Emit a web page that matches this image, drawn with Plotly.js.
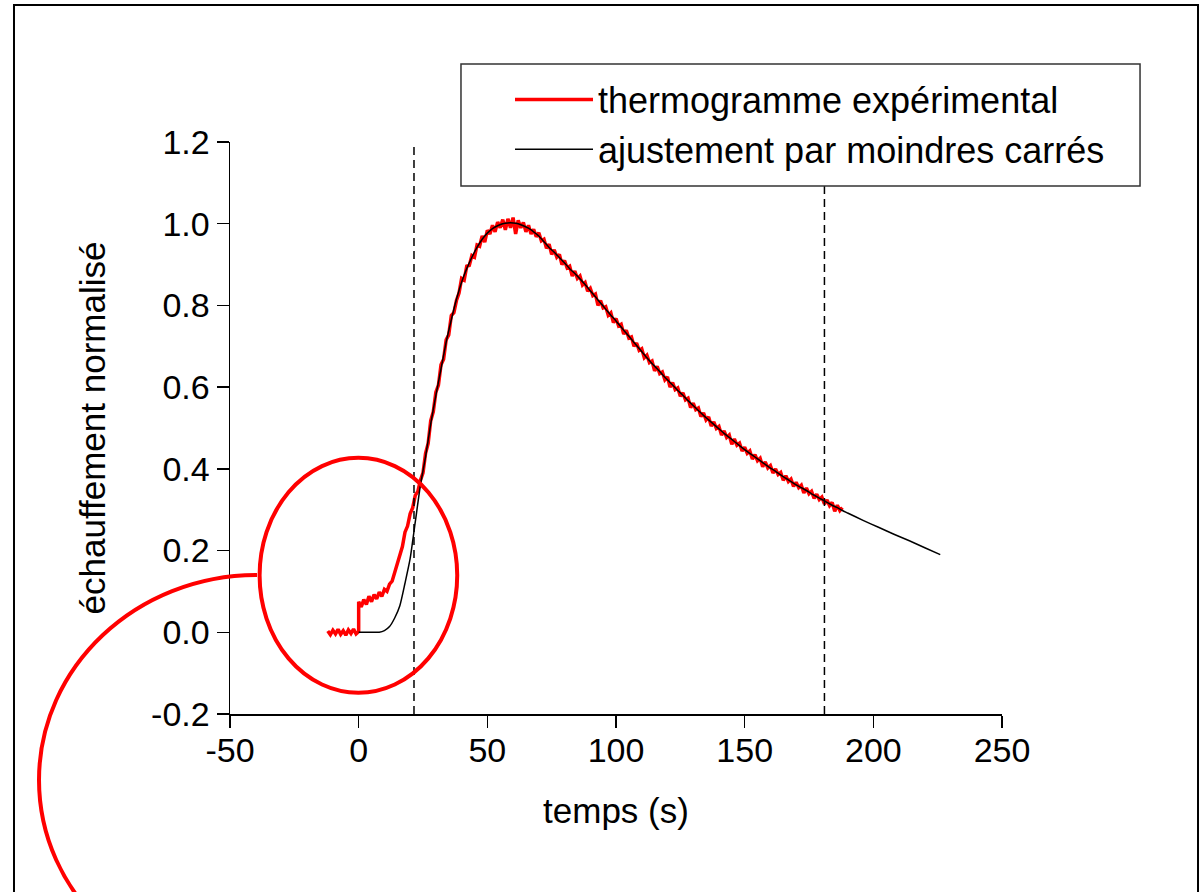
<!DOCTYPE html>
<html>
<head>
<meta charset="utf-8">
<script src="https://cdn.plot.ly/plotly-3.0.1.min.js"></script>
<style>html,body{margin:0;padding:0;background:#fff;}#chart{width:1202px;height:892px;}</style>
</head>
<body>
<div id="chart"></div>
<script>
// ---- data ----
const seriesNames = ['thermogramme expérimental', 'ajustement par moindres carrés'];

const expTime = [-12,-11,-10,-9,-8,-7,-6,-5,-4,-3,-2,-1,0,0,1,2,3,4,5,6,7,8,9,10,11,12,13,14,15,16,17,18,19,20,21,22,23,
  24,25,26,27,28,29,30,31,32,33,34,35,36,37,38,39,40,41,42,43,44,45,46,47,48,49,50,51,52,53,54,55,56,57,58,59,60,61,62,63,
  64,65,66,67,68,69,70,71,72,73,74,75,76,77,78,79,80,81,82,83,84,85,86,87,88,89,90,91,92,93,94,95,96,97,98,99,100,101,102,103,
  104,105,106,107,108,109,110,111,112,113,114,115,116,117,118,119,120,121,122,123,124,125,126,127,128,129,130,131,132,133,
  134,135,136,137,138,139,140,141,142,143,144,145,146,147,148,149,150,151,152,153,154,155,156,157,158,159,160,161,162,163,
  164,165,166,167,168,169,170,171,172,173,174,175,176,177,178,179,180,181,182,183,184,185,186,187,188];
const expValue = [0.003,-0.006,0.005,-0.004,0.007,-0.005,0.004,-0.007,0.006,-0.003,0.008,-0.004,0.002,0.075,0.062,0.08,0.068,0.088,0.075,0.092,0.082,0.098,0.088,0.105,0.1,0.118,0.125,0.148,0.165,0.195,0.21,0.245,0.26,0.29,0.305,0.335,0.345,
  0.372,0.39,0.438,0.462,0.518,0.54,0.588,0.605,0.655,0.668,0.716,0.728,0.775,0.782,0.812,0.83,0.866,0.862,0.896,0.898,0.922,0.918,0.948,0.945,0.97,0.955,0.984,0.975,0.996,0.98,1.004,0.99,1.01,0.985,1.012,0.99,1.015,0.975,1.008,0.99,
  1.003,0.98,0.996,0.975,0.986,0.968,0.978,0.958,0.962,0.94,0.95,0.925,0.936,0.918,0.925,0.9,0.91,0.892,0.896,0.872,0.884,0.866,0.872,0.85,0.856,0.835,0.842,0.824,0.828,0.8,0.812,0.794,0.797,0.776,0.782,0.758,0.768,0.75,0.754,0.73,
  0.739,0.72,0.723,0.7,0.708,0.69,0.694,0.672,0.678,0.66,0.664,0.64,0.651,0.633,0.637,0.618,0.625,0.6,0.611,0.594,0.598,0.578,0.586,0.569,0.573,0.55,0.561,0.545,0.549,0.528,
  0.537,0.52,0.527,0.505,0.515,0.499,0.504,0.483,0.493,0.477,0.483,0.46,0.473,0.458,0.463,0.444,0.453,0.438,0.444,0.424,0.435,0.42,0.426,0.405,0.417,0.402,0.408,0.39,0.4,0.386,
  0.391,0.372,0.383,0.369,0.375,0.357,0.367,0.354,0.36,0.341,0.353,0.339,0.345,0.328,0.338,0.325,0.331,0.314,0.324,0.31,0.318,0.296,0.311,0.298,0.305];

const fitTime = [0,2,4,6,8,10,12,14,16,18,20,22,24,26,28,30,32,34,36,38,40,42,44,46,48,50,52,54,56,58,60,62,64,66,68,70,72,74,76,78,80,
  82,84,86,88,90,92,94,96,98,100,102,104,106,108,110,112,114,116,118,120,122,124,126,128,130,132,134,136,138,140,142,144,146,148,150,
  152,154,156,158,160,162,164,166,168,170,172,174,176,178,180,182,184,186,188,190,196,202,208,214,220,226];
const fitValue = [0,0,0,0,0,0.004,0.014,0.035,0.065,0.12,0.18,0.27,0.36,0.43,0.51,0.58,0.645,0.71,0.765,0.815,0.857,0.89,0.918,0.942,0.962,0.977,0.988,0.995,1.0,1.002,1.002,1.0,0.995,0.989,0.98,0.97,0.956,0.942,0.93,0.917,0.904,
  0.89,0.878,0.865,0.851,0.836,0.821,0.806,0.791,0.776,0.762,0.747,0.732,0.717,0.702,0.687,0.672,0.658,0.645,0.631,0.618,0.605,0.592,0.58,0.567,0.555,0.543,0.531,0.52,0.509,0.498,0.487,0.477,0.467,0.457,0.447,
  0.438,0.429,0.42,0.411,0.402,0.394,0.385,0.377,0.369,0.361,0.354,0.347,0.339,0.332,0.325,0.318,0.311,0.305,0.298,0.292,0.274,0.257,0.24,0.224,0.207,0.19];

const windowBounds = [21.5, 181];          // dashed vertical markers (s)
const zoomCenter = [0, 0.14];               // circled region (s, value)

const xTickVals = [-50, 0, 50, 100, 150, 200, 250];
const xTickText = ['-50', '0', '50', '100', '150', '200', '250'];
const yTickVals = [-0.2, 0, 0.2, 0.4, 0.6, 0.8, 1.0, 1.2];
const yTickText = ['-0.2', '0.0', '0.2', '0.4', '0.6', '0.8', '1.0', '1.2'];

const xTitle = 'temps (s)';
const yTitle = 'échauffement normalisé';

// ---- figure ----
const FONT = 'Liberation Sans, Arial, sans-serif';

const traces = [
  {x: expTime, y: expValue, type: 'scatter', mode: 'lines', name: seriesNames[0],
   line: {color: '#ff0000', width: 3.5}},
  {x: fitTime, y: fitValue, type: 'scatter', mode: 'lines', name: seriesNames[1],
   line: {color: '#000000', width: 1.5, shape: 'spline', smoothing: 0.6}}
];

const shapes = [];
windowBounds.forEach(t => shapes.push({
  type: 'line', xref: 'x', yref: 'y', x0: t, x1: t, y0: -0.2, y1: 1.2,
  line: {color: '#000', width: 1.5, dash: '8px,5px'}, layer: 'above'
}));
// circled region
shapes.push({type: 'circle', xref: 'x', yref: 'y',
  x0: zoomCenter[0] - 38.5, x1: zoomCenter[0] + 38.3, y0: zoomCenter[1] - 0.288, y1: zoomCenter[1] + 0.287,
  line: {color: '#ff0000', width: 4}, layer: 'above'});
// big arc leading out of the circle
shapes.push({type: 'path', xref: 'paper', yref: 'paper',
  path: 'M 0.0350,0.2430 C -0.1210,0.2430 -0.2474,0.0825 -0.2474,-0.1154 C -0.2474,-0.3133 -0.1210,-0.4738 0.0350,-0.4738',
  line: {color: '#ff0000', width: 4}, layer: 'above'});
// legend box
shapes.push({type: 'rect', xref: 'paper', yref: 'paper',
  x0: 0.2992, x1: 1.1788, y0: 0.9231, y1: 1.1364,
  fillcolor: '#ffffff', line: {color: '#333', width: 1.5}, layer: 'above'});
// outer frame
shapes.push({type: 'rect', xref: 'paper', yref: 'paper',
  x0: -0.2798, x1: 1.2539, y0: -0.40, y1: 1.2395,
  line: {color: '#000', width: 2}, layer: 'below'});

const layout = {
  width: 1202, height: 892,
  margin: {l: 230, r: 200, t: 142, b: 178},
  paper_bgcolor: '#fff', plot_bgcolor: '#fff',
  font: {family: FONT, color: '#000', size: 34},
  showlegend: true,
  legend: {x: 0.3627, y: 1.1267, xanchor: 'left', yanchor: 'top',
    bgcolor: 'rgba(0,0,0,0)', borderwidth: 0, itemwidth: 78,
    font: {family: FONT, size: 36, color: '#000'}},
  xaxis: {range: [-50, 250], tickvals: xTickVals, ticktext: xTickText,
    showgrid: false, zeroline: false, showline: true, linecolor: '#000', linewidth: 1.5,
    ticks: 'outside', ticklen: 12, tickwidth: 1.5, tickcolor: '#000',
    ticklabelstandoff: -6,
    tickfont: {family: FONT, size: 34},
    title: {text: xTitle, font: {family: FONT, size: 35}, standoff: 30}},
  yaxis: {range: [-0.2, 1.2], tickvals: yTickVals, ticktext: yTickText,
    showgrid: false, zeroline: false, showline: true, linecolor: '#000', linewidth: 1.5,
    ticks: 'outside', ticklen: 12, tickwidth: 1.5, tickcolor: '#000',
    tickfont: {family: FONT, size: 34},
    title: {text: yTitle, font: {family: FONT, size: 35}, standoff: 35}},
  shapes: shapes
};

Plotly.newPlot('chart', traces, layout, {displayModeBar: false, staticPlot: true});
</script>
</body>
</html>
